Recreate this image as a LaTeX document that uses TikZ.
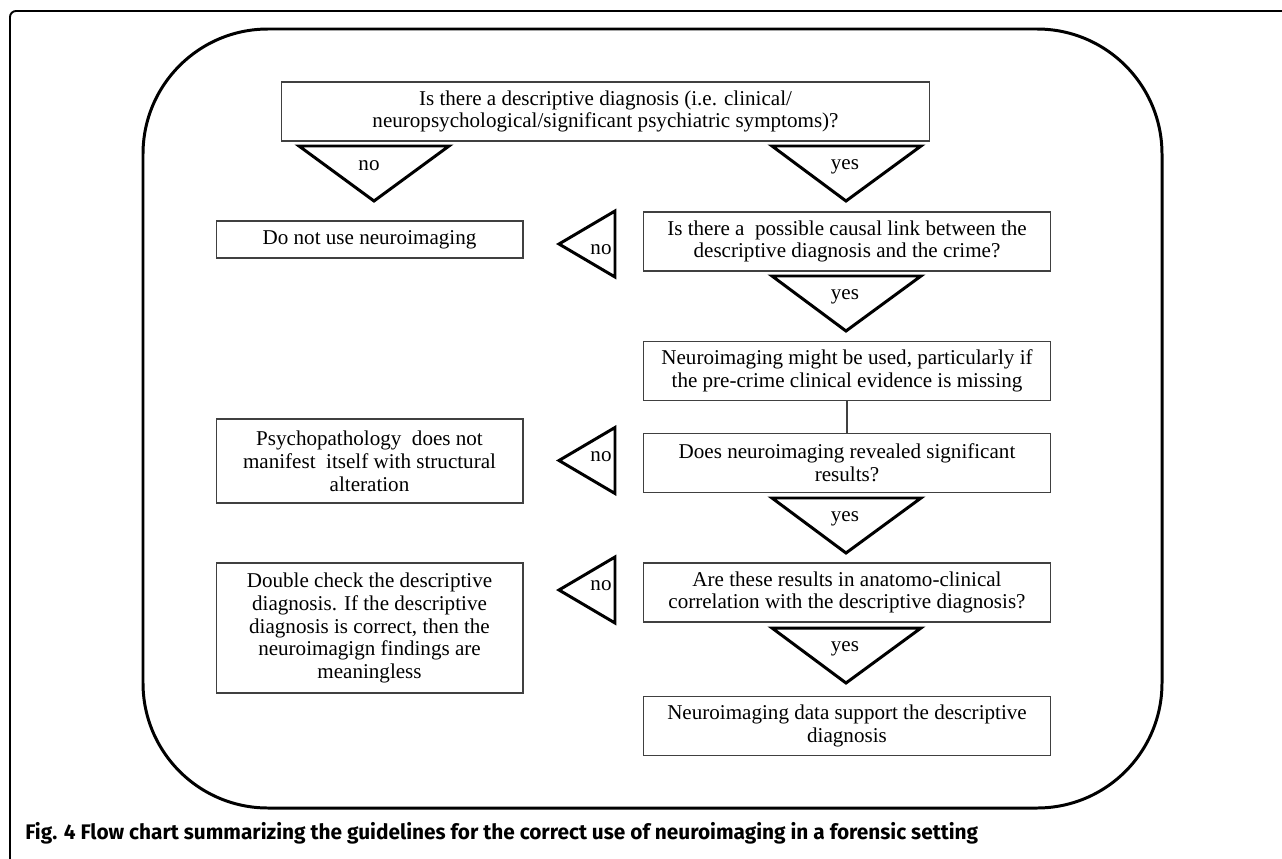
\documentclass[tikz,border=0pt]{standalone}
\usepackage{fontspec}
\setmainfont{Liberation Serif}
\newfontfamily\capfont{Fira Sans}
\usepackage{tikz}
\usetikzlibrary{positioning,calc}

\begin{document}
\begin{tikzpicture}[x=0.02cm,y=-0.02cm,
    box/.style={draw=black!75,line width=0.6pt,align=center,inner sep=0pt,
      font=\fontsize{12}{13}\selectfont},
    qbox/.style={box,minimum width=8.16cm,minimum height=1.18cm},
    lbox/.style={box,minimum width=6.14cm},
    tri/.style={draw,line width=1.7pt},
    lab/.style={font=\fontsize{12}{13}\selectfont,inner sep=0pt}]
    \useasboundingbox (0,0) rectangle (1282,859);
    % frames
    \draw[line width=1.1pt,rounded corners=0.12cm] (10,859) -- (10,11) -- (1282,11);
    \draw[line width=1.7pt,rounded corners=2.5cm] (143,29) rectangle (1162,808);
    % boxes on the right
    \node[box,minimum width=12.98cm,minimum height=1.18cm] (desc) at (605.5,111.5)
      {Is there a descriptive diagnosis (i.e. clinical/\\neuropsychological/significant psychiatric symptoms)?};
    \node[qbox] (link) at (847,241.5) {Is there a \ possible causal link between the\\descriptive diagnosis and the crime?};
    \node[qbox] (might) at (847,371) {Neuroimaging might be used, particularly if\\the pre-crime clinical evidence is missing};
    \node[qbox] (signif) at (847,463) {Does neuroimaging revealed significant\\results?};
    \node[qbox] (corr) at (847,592.5) {Are these results in anatomo-clinical\\correlation with the descriptive diagnosis?};
    \node[qbox] (support) at (847,726) {Neuroimaging data support the descriptive\\diagnosis};
    \draw[black!75,line width=0.6pt] (might) -- (signif);
    % boxes on the left
    \node[lbox,minimum height=0.74cm] (nouse) at (369.5,239.5) {Do not use neuroimaging};
    \node[lbox,minimum height=1.68cm] (psycho) at (369.5,461)
      {Psychopathology \ does not\\manifest \ itself with structural\\alteration};
    \node[lbox,minimum height=2.6cm] (check) at (369.5,628)
      {Double check the descriptive\\diagnosis. If the descriptive\\diagnosis is correct, then the\\neuroimagign findings are\\meaningless};
    % yes / no triangles
    \draw[tri] (299,146) -- (449,146) -- (374,201) -- cycle;
    \node[lab] (no1) at (369,166) {no};
    \foreach \t/\n in {146/1,276/2,498/3,628/4}{
      \draw[tri] (772,\t) -- (921,\t) -- (846,\t+55) -- cycle;
      \node[lab] (yes\n) at (845,\t+21) {yes};
    }
    \foreach \c/\l/\n in {244/250/2,460.5/457/3,590/586/4}{
      \draw[tri] (615,\c-33) -- (615,\c+33) -- (559,\c) -- cycle;
      \node[lab] (no\n) at (601,\l) {no};
    }
    % caption
    \node[anchor=west,inner sep=0pt] (caption) at (25,833)
      {\resizebox{19.06cm}{\height}{\capfont\fontsize{12}{14}\selectfont\bfseries
       Fig. 4 Flow chart summarizing the guidelines for the correct use of neuroimaging in a forensic setting}};
\end{tikzpicture}
\end{document}
